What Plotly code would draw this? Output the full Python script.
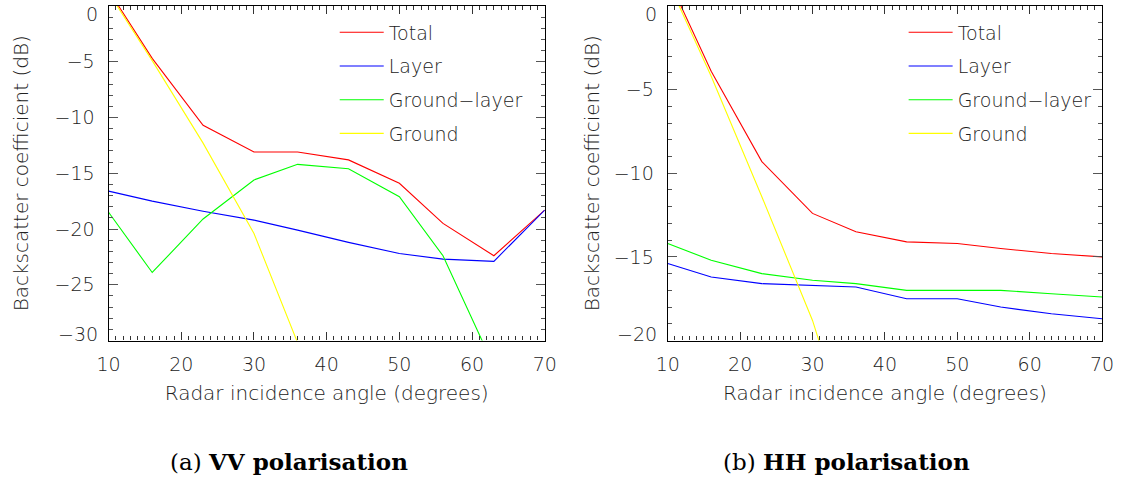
import plotly.graph_objects as go

# Incidence angles (degrees) at which the model was evaluated
angles = [10, 16, 23, 30, 36, 43, 50, 56, 63, 70]

# VV polarisation backscatter contributions (dB)
vv_total = [1.4, -4.7, -10.7, -13.1, -13.1, -13.8, -15.9, -19.5, -22.4, -18.3]
vv_layer = [-16.6, -17.5, -18.4, -19.2, -20.1, -21.2, -22.2, -22.7, -22.9, -18.3]
vv_ground_layer = [-18.5, -23.9, -19.1, -15.6, -14.2, -14.6, -17.1, -22.4, -32.3, None]
vv_ground = [1.2, -4.9, -12.3, -20.4, -30.2, None, None, None, None, None]

# HH polarisation backscatter contributions (dB)
hh_total = [1.7, -3.9, -9.3, -12.4, -13.5, -14.1, -14.2, -14.5, -14.8, -15.0]
hh_layer = [-15.4, -16.2, -16.6, -16.7, -16.8, -17.5, -17.5, -18.0, -18.4, -18.7]
hh_ground_layer = [-14.2, -15.2, -16.0, -16.4, -16.6, -17.0, -17.0, -17.0, -17.2, -17.4]
hh_ground = [1.5, -4.2, -11.4, -18.8, -27.0, None, None, None, None, None]

# Axis ticks
x_ticks = [10, 20, 30, 40, 50, 60, 70]
vv_y_ticks = [0, -5, -10, -15, -20, -25, -30]
hh_y_ticks = [0, -5, -10, -15, -20]

series_names = ["Total", "Layer", "Ground\u2212layer", "Ground"]
series_colors = ["#ff0000", "#0000ff", "#00ff00", "#ffff00"]

panels = [
    ("x", "y", "legend", [vv_total, vv_layer, vv_ground_layer, vv_ground]),
    ("x2", "y2", "legend2", [hh_total, hh_layer, hh_ground_layer, hh_ground]),
]

fig = go.Figure()
for xa, ya, leg, values in panels:
    for name, color, vals in zip(series_names, series_colors, values):
        fig.add_trace(go.Scatter(
            x=angles, y=vals, name=name, mode="lines",
            line=dict(color=color, width=1.1),
            xaxis=xa, yaxis=ya, legend=leg,
            legendgroup=f"{leg}-{name}",
        ))

TXT = "#222222"
FONT = "DejaVu Sans"
TICKFONT = dict(family=FONT, size=19, color=TXT, weight=300)
TITLEFONT = dict(family=FONT, size=20, color=TXT, weight=300)


def fmt(v):
    return ("\u2212" + str(-v)) if v < 0 else str(v)


def x_axis(domain, anchor):
    return dict(
        domain=domain, anchor=anchor, range=[10, 70],
        tickvals=x_ticks,
        ticks="inside", ticklen=8, tickwidth=1, tickcolor="#333",
        minor=dict(dtick=1, ticks="inside", ticklen=4, tickcolor="#333"),
        showline=True, linecolor="#000", linewidth=1.3, mirror="allticks",
        showgrid=False, zeroline=False,
        tickfont=TICKFONT, ticklabelstandoff=7,
        title=dict(text="Radar incidence angle (degrees)",
                   font=TITLEFONT, standoff=11),
    )


def y_axis(domain, anchor, ticks, standoff):
    # the top and bottom labels are placed separately, nudged inside the frame
    inner = [fmt(v) if v not in (ticks[0], ticks[-1]) else "" for v in ticks]
    return dict(
        domain=domain, anchor=anchor, range=[ticks[-1], ticks[0]],
        tickvals=ticks, ticktext=inner,
        ticks="inside", ticklen=9, tickwidth=1, tickcolor="#555",
        minor=dict(dtick=1, ticks="inside", ticklen=4, tickcolor="#555"),
        showline=True, linecolor="#000", linewidth=1.3, mirror="allticks",
        showgrid=False, zeroline=False,
        tickfont=TICKFONT, ticklabelstandoff=9,
        title=dict(text="Backscatter coefficient (dB)",
                   font=TITLEFONT, standoff=standoff),
    )


def end_labels(xdomain_ref, yref, ticks):
    out = []
    for value, shift in ((ticks[0], -8), (ticks[-1], 7)):
        out.append(dict(
            text=fmt(value), x=0, y=value, xref=xdomain_ref, yref=yref,
            xanchor="right", yanchor="middle", xshift=-9, yshift=shift,
            showarrow=False, font=TICKFONT,
        ))
    return out


def legend_box(x):
    return dict(
        x=x, y=0.972, xanchor="left", yanchor="top",
        bgcolor="rgba(0,0,0,0)", borderwidth=0,
        font=dict(family=FONT, size=19, color=TXT, weight=300),
        tracegroupgap=6, itemwidth=44,
    )


ydom = [0.2906, 0.9875]
caption_font = dict(family="DejaVu Serif", size=23, color="#000")
captions = [
    dict(text="(a) <b>VV polarisation</b>", x=283 / 1133, y=1 - 461 / 480,
         xref="paper", yref="paper", xanchor="center", yanchor="middle",
         showarrow=False, font=caption_font),
    dict(text="(b) <b>HH polarisation</b>", x=853 / 1133, y=1 - 461 / 480,
         xref="paper", yref="paper", xanchor="center", yanchor="middle",
         showarrow=False, font=caption_font),
]

fig.update_layout(
    width=1133, height=480,
    margin=dict(l=0, r=0, t=0, b=0),
    paper_bgcolor="white", plot_bgcolor="white",
    showlegend=True,
    xaxis=x_axis([0.0871, 0.4804], "y"),
    yaxis=y_axis(ydom, "x", vv_y_ticks, 20),
    xaxis2=x_axis([0.5913, 0.9829], "y2"),
    yaxis2=y_axis(ydom, "x2", hh_y_ticks, 8),
    legend=legend_box(0.291),
    legend2=legend_box(0.804),
    annotations=end_labels("x domain", "y", vv_y_ticks)
    + end_labels("x2 domain", "y2", hh_y_ticks)
    + captions,
)

fig.write_html("out.html")
